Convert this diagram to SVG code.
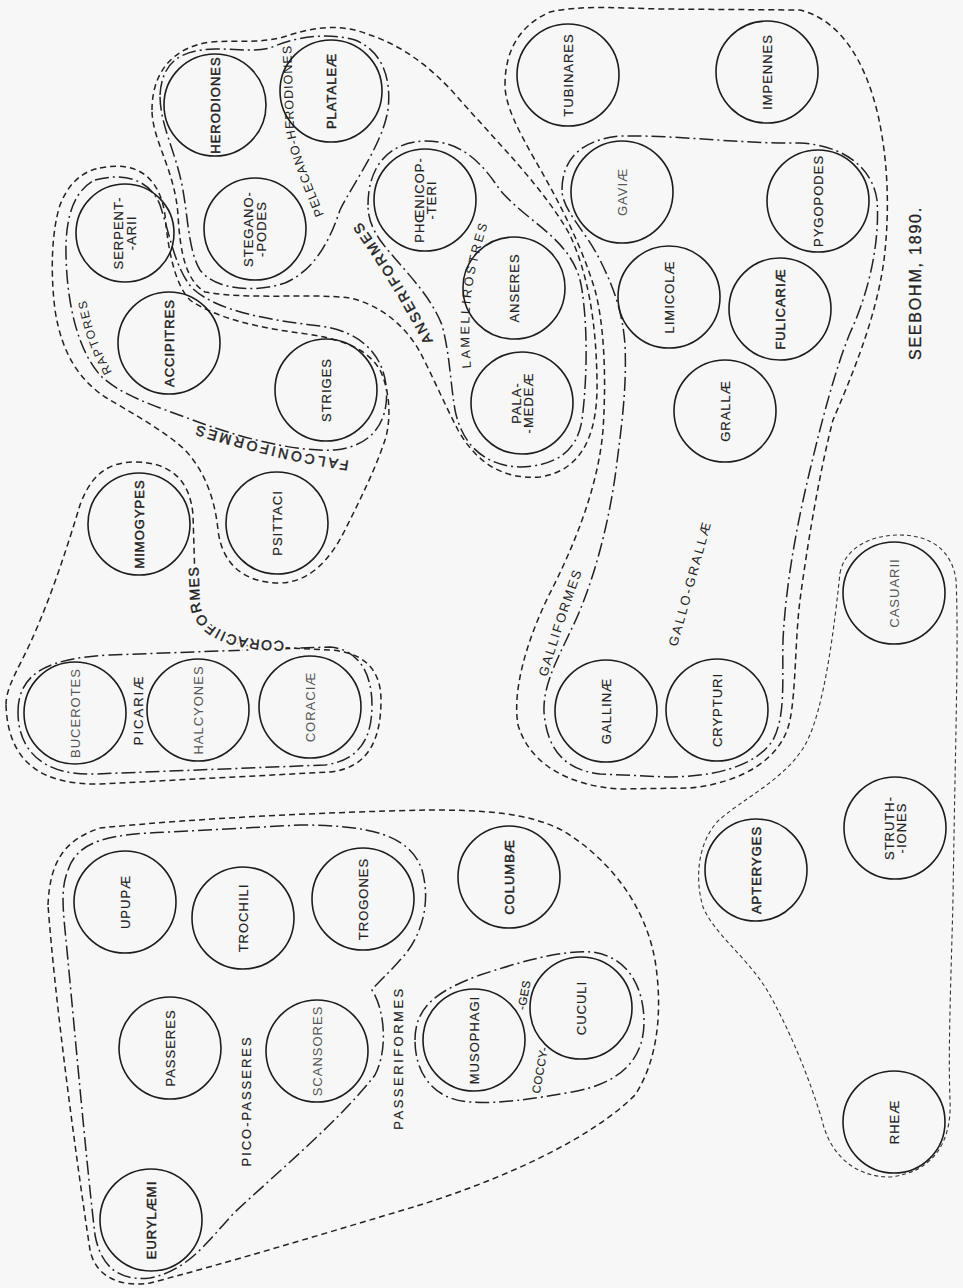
<svg xmlns="http://www.w3.org/2000/svg" width="963" height="1288" viewBox="0 0 963 1288">
<style>
.c{fill:none;stroke:#1d1d1d;stroke-width:1.6}
.o1{fill:none;stroke:#222;stroke-width:1.5;stroke-dasharray:6 4}
.o2{fill:none;stroke:#222;stroke-width:1.5;stroke-dasharray:14 4 2 4}
.o3{fill:none;stroke:#333;stroke-width:1.1;stroke-dasharray:4 3}
.t{font-family:"Liberation Sans",Arial,sans-serif;font-size:13px;letter-spacing:1px;fill:#222;text-anchor:middle;stroke:#222;stroke-width:0.15}
.b{stroke:#222;stroke-width:0.45}
.lt{fill:#555;stroke:none}
.gl{font-family:"Liberation Sans",Arial,sans-serif;fill:#222}
.mask{fill:#f7f7f7;stroke:#f7f7f7;stroke-width:5}
</style>
<defs>
<path id="pCorac" d="M 284,641 C 240,641 206,632 200,605 L 197,540"/>
<path id="pFalc" d="M 349,461 Q 270,449 184,421"/>
<path id="pRapt" d="M 112,372 Q 88,330 83,278"/>
<path id="pAnser" d="M 433,341 Q 400,275 356,216"/>
<path id="pLamel" d="M 471,368 C 467,320 468,280 492,212"/>
<path id="pPelec" d="M 324,215 C 310,180 297,150 294,125 L 291,40"/>
<path id="pGalli" d="M 547,677 C 558,640 571,600 590,550"/>
<path id="pGG" d="M 677,647 L 714,513"/>
</defs>
<rect width="963" height="1288" fill="#f7f7f7"/>
<g id="connectors">
<path id="passeriformes" class="o1" d="M 48,905 C 50,860 65,840 100,828 C 200,818 330,812 430,810 C 480,810 530,812 565,832 C 610,860 645,905 655,960 C 663,1010 658,1060 635,1095 C 590,1140 500,1180 420,1205 C 330,1232 220,1265 150,1283 C 118,1288 95,1275 90,1250 C 75,1150 55,1000 48,905 Z"/>
<path id="pico-passeres" class="o2" d="M 68,870 C 78,840 110,834 170,832 L 300,825 C 370,825 410,835 422,870 C 432,905 420,940 400,960 C 390,972 378,982 372,990 C 385,1010 388,1050 375,1075 C 340,1120 280,1170 235,1212 C 210,1238 190,1270 150,1278 C 115,1282 100,1262 95,1235 C 85,1150 72,1000 65,930 C 62,900 62,885 68,870 Z"/>
<path id="coccyges" class="o2" d="M 415,1040 C 415,1005 440,990 480,975 C 520,962 560,950 592,952 C 630,957 644,990 644,1022 C 644,1062 617,1084 572,1092 C 532,1099 500,1104 470,1102 C 435,1100 415,1075 415,1040 Z"/>
<path id="picariae" class="o2" d="M 18,712 C 18,672 50,658 110,655 L 330,647 C 362,650 372,678 372,705 C 372,738 360,760 325,765 L 95,774 C 45,776 18,752 18,712 Z"/>
<path id="coraciiformes" class="o1" d="M 6,705 C 8,765 45,785 100,784 L 330,772 C 368,768 381,740 381,700 C 381,668 362,652 330,650 L 250,646 C 215,640 197,615 195,580 L 193,515 C 190,478 168,462 135,462 C 105,462 90,478 80,505 C 65,555 45,615 22,660 C 12,680 6,692 6,705 Z"/>
<path id="falconiformes" class="o1" d="M 100,168 C 140,160 160,180 165,215 C 168,250 175,285 190,300 C 215,318 260,328 300,333 C 335,338 365,345 380,370 C 392,395 390,425 385,440 C 375,470 360,500 345,530 C 330,560 310,582 280,583 C 245,583 222,565 218,530 C 215,500 205,470 183,448 C 160,428 130,412 105,397 C 80,380 62,355 55,310 C 50,270 52,230 60,205 C 68,185 80,172 100,168 Z"/>
<path id="raptores" class="o2" d="M 95,180 C 125,172 150,180 160,205 C 170,235 175,268 192,288 C 218,312 270,320 320,326 C 358,331 382,352 386,385 C 390,418 375,446 335,450 C 295,452 240,438 190,419 C 155,406 120,395 100,375 C 78,350 67,305 66,255 C 65,215 75,190 95,180 Z"/>
<path id="pelecano-herodiones" class="o2" d="M 160,95 C 162,62 180,50 215,49 C 240,49 255,52 270,48 C 300,35 330,33 355,40 C 380,50 392,75 388,110 C 382,145 355,180 340,210 C 330,240 315,270 285,283 C 255,293 215,290 200,270 C 188,250 188,215 182,185 C 175,150 160,125 160,95 Z"/>
<path id="anseriformes" class="o1" d="M 152,110 C 152,75 170,48 210,42 C 240,40 265,44 290,35 C 320,25 345,25 370,35 C 400,45 430,65 460,100 C 500,145 545,190 570,235 C 588,275 596,320 597,380 C 598,430 585,470 540,477 C 500,480 475,460 458,430 C 445,405 432,375 420,352 C 405,325 380,305 350,298 C 310,293 250,300 205,292 C 185,280 180,250 178,215 C 175,170 152,140 152,110 Z"/>
<path id="lamellirostres" class="o2" d="M 368,205 C 368,165 390,142 425,141 C 460,141 480,160 500,190 C 530,225 575,240 582,290 C 588,330 587,380 582,420 C 577,452 555,466 520,467 C 485,466 462,445 455,410 C 450,380 450,355 442,325 C 428,290 398,265 380,240 C 372,228 368,218 368,205 Z"/>
<path id="galliformes" class="o1" d="M 505,85 C 505,50 520,25 550,12 C 580,5 620,8 660,9 L 800,10 C 840,20 865,60 878,115 C 888,160 890,210 884,260 C 876,320 850,380 833,420 C 820,470 808,540 800,600 C 795,640 796,690 790,720 C 782,760 740,783 690,788 L 620,789 C 570,786 530,765 518,725 C 512,690 527,640 549,595 C 572,550 598,490 603,430 C 607,370 603,320 595,290 C 580,240 555,195 535,160 C 518,130 505,105 505,85 Z"/>
<path id="gallo-grallae" class="o2" d="M 562,190 C 562,160 580,140 620,136 C 680,135 740,144 800,143 C 840,145 872,165 877,200 C 880,240 870,290 850,333 C 835,370 822,420 810,470 C 798,520 786,580 783,640 C 782,680 786,715 773,740 C 755,768 710,777 667,777 L 600,774 C 565,770 547,750 544,712 C 543,685 557,660 571,630 C 591,590 608,530 616,470 C 621,430 627,390 625,345 C 623,315 615,290 600,260 C 585,230 562,210 562,190 Z"/>
<path id="ratitae" class="o3" d="M 840,573 C 845,548 870,535 900,535 C 930,535 952,550 956,580 C 959,640 955,750 953,900 C 951,980 948,1050 950,1100 C 952,1140 935,1172 890,1177 C 855,1177 830,1155 822,1120 C 810,1080 790,1030 767,990 C 745,955 715,935 703,907 C 695,880 697,845 717,822 C 740,800 785,780 805,745 C 825,710 835,620 840,573 Z"/>
</g>
<g id="group-labels">
<text class="gl mask" font-size="14" letter-spacing="1.5"><textPath href="#pCorac">CORACIIFORMES</textPath></text>
<text class="gl b" font-size="14" letter-spacing="1.5"><textPath href="#pCorac">CORACIIFORMES</textPath></text>
<text class="gl b" font-size="14" letter-spacing="3"><textPath href="#pFalc">FALCONIFORMES</textPath></text>
<text class="gl" font-size="12" letter-spacing="1.5"><textPath href="#pRapt">RAPTORES</textPath></text>
<text class="gl b" font-size="14" letter-spacing="2.5"><textPath href="#pAnser">ANSERIFORMES</textPath></text>
<text class="gl" font-size="12.5" letter-spacing="2.6"><textPath href="#pLamel">LAMELLIROSTRES</textPath></text>
<text class="gl" font-size="12.5" letter-spacing="1"><textPath href="#pPelec">PELECANO-HERODIONES</textPath></text>
<text class="gl lt" font-size="13" letter-spacing="1.8"><textPath href="#pGalli">GALLIFORMES</textPath></text>
<text class="gl" font-size="13" letter-spacing="2.2"><textPath href="#pGG">GALLO-GRALLÆ</textPath></text>
<text class="t" style="letter-spacing:2px" transform="translate(246,1101) rotate(-90)" dy="4.5">PICO-PASSERES</text>
<text class="t" style="letter-spacing:2.5px" transform="translate(398,1058) rotate(-90)" dy="4.5">PASSERIFORMES</text>
<text class="t" style="letter-spacing:2px" transform="translate(138,710) rotate(-90)" dy="4.5">PICARIÆ</text>
<text class="t" style="font-size:11.5px;letter-spacing:0.5px" transform="translate(540,1070) rotate(-80)" dy="4">COCCY-</text>
<text class="t" style="font-size:11.5px;letter-spacing:0.5px" transform="translate(524,995) rotate(-80)" dy="4">-GES</text>
<text class="t" style="font-size:16px;letter-spacing:1.8px;stroke-width:0.3" transform="translate(915,283) rotate(-90)" dy="6">SEEBOHM, 1890.</text>
</g>
<g id="n-eurylaemi"><circle class="c" cx="151" cy="1220" r="51"/><text class="t b" transform="translate(151,1220) rotate(-90)" dy="4.5">EURYLÆMI</text></g>
<g id="n-passeres"><circle class="c" cx="170" cy="1048" r="51"/><text class="t" transform="translate(170,1048) rotate(-90)" dy="4.5">PASSERES</text></g>
<g id="n-upupae"><circle class="c" cx="125" cy="902" r="51"/><text class="t" transform="translate(125,902) rotate(-90)" dy="4.5">UPUPÆ</text></g>
<g id="n-trochili"><circle class="c" cx="243" cy="918" r="51"/><text class="t" transform="translate(243,918) rotate(-90)" dy="4.5">TROCHILI</text></g>
<g id="n-trogones"><circle class="c" cx="363" cy="899" r="51"/><text class="t" transform="translate(363,899) rotate(-90)" dy="4.5">TROGONES</text></g>
<g id="n-scansores"><circle class="c" cx="317" cy="1051" r="51"/><text class="t lt" transform="translate(317,1051) rotate(-90)" dy="4.5">SCANSORES</text></g>
<g id="n-columbae"><circle class="c" cx="509" cy="877" r="51"/><text class="t b" transform="translate(509,877) rotate(-90)" dy="4.5">COLUMBÆ</text></g>
<g id="n-musophagi"><circle class="c" cx="474" cy="1040" r="51"/><text class="t" transform="translate(474,1040) rotate(-90)" dy="4.5">MUSOPHAGI</text></g>
<g id="n-cuculi"><circle class="c" cx="581" cy="1008" r="51"/><text class="t" transform="translate(581,1008) rotate(-90)" dy="4.5">CUCULI</text></g>
<g id="n-bucerotes"><circle class="c" cx="75" cy="713" r="51"/><text class="t lt" transform="translate(75,713) rotate(-90)" dy="4.5">BUCEROTES</text></g>
<g id="n-halcyones"><circle class="c" cx="198" cy="710" r="51"/><text class="t lt" transform="translate(198,710) rotate(-90)" dy="4.5">HALCYONES</text></g>
<g id="n-coraciae"><circle class="c" cx="310" cy="707" r="51"/><text class="t lt" transform="translate(310,707) rotate(-90)" dy="4.5">CORACIÆ</text></g>
<g id="n-mimogypes"><circle class="c" cx="139" cy="524" r="51"/><text class="t b" transform="translate(139,524) rotate(-90)" dy="4.5">MIMOGYPES</text></g>
<g id="n-psittaci"><circle class="c" cx="277" cy="523" r="51"/><text class="t" transform="translate(277,523) rotate(-90)" dy="4.5">PSITTACI</text></g>
<g id="n-striges"><circle class="c" cx="326" cy="390" r="51"/><text class="t" transform="translate(326,390) rotate(-90)" dy="4.5">STRIGES</text></g>
<g id="n-accipitres"><circle class="c" cx="169" cy="343" r="51"/><text class="t b" transform="translate(169,343) rotate(-90)" dy="4.5">ACCIPITRES</text></g>
<g id="n-serpentarii"><circle class="c" cx="125" cy="233" r="49"/><text class="t" transform="translate(125,233) rotate(-90)"><tspan x="0" y="-2">SERPENT-</tspan><tspan x="0" y="11">-ARII</tspan></text></g>
<g id="n-steganopodes"><circle class="c" cx="255" cy="229" r="51"/><text class="t" transform="translate(255,229) rotate(-90)"><tspan x="0" y="-2">STEGANO-</tspan><tspan x="0" y="11">-PODES</tspan></text></g>
<g id="n-herodiones"><circle class="c" cx="215" cy="105" r="51"/><text class="t b" transform="translate(215,105) rotate(-90)" dy="4.5">HERODIONES</text></g>
<g id="n-plataleae"><circle class="c" cx="331" cy="91" r="51"/><text class="t b" transform="translate(331,91) rotate(-90)" dy="4.5">PLATALEÆ</text></g>
<g id="n-phoenicopteri"><circle class="c" cx="425" cy="200" r="51"/><text class="t" transform="translate(425,200) rotate(-90)"><tspan x="0" y="-1">PHŒNICOP-</tspan><tspan x="0" y="11">-TERI</tspan></text></g>
<g id="n-anseres"><circle class="c" cx="514" cy="288" r="51"/><text class="t" transform="translate(514,288) rotate(-90)" dy="4.5">ANSERES</text></g>
<g id="n-palamedeae"><circle class="c" cx="522" cy="403" r="51"/><text class="t" transform="translate(522,403) rotate(-90)"><tspan x="0" y="-1">PALA-</tspan><tspan x="0" y="11">-MEDEÆ</tspan></text></g>
<g id="n-tubinares"><circle class="c" cx="568" cy="75" r="51"/><text class="t" transform="translate(568,75) rotate(-90)" dy="4.5">TUBINARES</text></g>
<g id="n-impennes"><circle class="c" cx="767" cy="72" r="51"/><text class="t" transform="translate(767,72) rotate(-90)" dy="4.5">IMPENNES</text></g>
<g id="n-gaviae"><circle class="c" cx="622" cy="192" r="51"/><text class="t lt" transform="translate(622,192) rotate(-90)" dy="4.5">GAVIÆ</text></g>
<g id="n-pygopodes"><circle class="c" cx="818" cy="201" r="51"/><text class="t" transform="translate(818,201) rotate(-90)" dy="4.5">PYGOPODES</text></g>
<g id="n-limicolae"><circle class="c" cx="669" cy="297" r="51"/><text class="t" transform="translate(669,297) rotate(-90)" dy="4.5">LIMICOLÆ</text></g>
<g id="n-fulicariae"><circle class="c" cx="780" cy="309" r="51"/><text class="t b" transform="translate(780,309) rotate(-90)" dy="4.5">FULICARIÆ</text></g>
<g id="n-grallae"><circle class="c" cx="725" cy="411" r="51"/><text class="t" transform="translate(725,411) rotate(-90)" dy="4.5">GRALLÆ</text></g>
<g id="n-gallinae"><circle class="c" cx="606" cy="711" r="51"/><text class="t" transform="translate(606,711) rotate(-90)" dy="4.5">GALLINÆ</text></g>
<g id="n-crypturi"><circle class="c" cx="717" cy="710" r="51"/><text class="t" transform="translate(717,710) rotate(-90)" dy="4.5">CRYPTURI</text></g>
<g id="n-casuarii"><circle class="c" cx="894" cy="593" r="51"/><text class="t lt" transform="translate(894,593) rotate(-90)" dy="4.5">CASUARII</text></g>
<g id="n-struthiones"><circle class="c" cx="895" cy="828" r="51"/><text class="t" transform="translate(895,828) rotate(-90)"><tspan x="0" y="-1">STRUTH-</tspan><tspan x="0" y="11">-IONES</tspan></text></g>
<g id="n-apteryges"><circle class="c" cx="756" cy="870" r="51"/><text class="t b" transform="translate(756,870) rotate(-90)" dy="4.5">APTERYGES</text></g>
<g id="n-rheae"><circle class="c" cx="894" cy="1122" r="51"/><text class="t" transform="translate(894,1122) rotate(-90)" dy="4.5">RHEÆ</text></g>
</svg>
